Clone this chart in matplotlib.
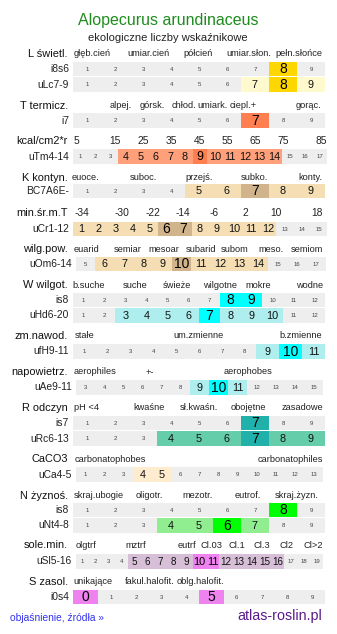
import matplotlib
matplotlib.use("Agg")
import matplotlib.pyplot as plt
from matplotlib.patches import Rectangle

plt.rcParams['font.family'] = ['Liberation Sans', 'DejaVu Sans']

# ---------------- data ----------------
title = "Alopecurus arundinaceus"
subtitle = "ekologiczne liczby wskaźnikowe"

# section headers: scale descriptions
L_cats = ["głęb.cień", "umiar.cień", "półcień", "umiar.słon.", "pełn.słońce"]
T_cats = ["alpej.", "górsk.", "chłod.", "umiark.", "ciepl.+", "gorąc."]
kcal_ticks = ["5", "15", "25", "35", "45", "55", "65", "75", "85"]
K_cats = ["euoce.", "suboc.", "przejś.", "subko.", "konty."]
minT_ticks = ["-34", "-30", "-22", "-14", "-6", "2", "10", "18"]
wilg_cats = ["euarid", "semiar", "mesoar", "subarid", "subom", "meso.", "semiom"]
W_cats = ["b.suche", "suche", "świeże", "wilgotne", "mokre", "wodne"]
zm_cats = ["stałe", "um.zmienne", "b.zmienne"]
aer_cats = ["aerophiles", "+-", "aerophobes"]
R_cats = ["pH <4", "kwaśne", "sł.kwaśn.", "obojętne", "zasadowe"]
Ca_cats = ["carbonatophobes", "carbonatophiles"]
N_cats = ["skraj.ubogie", "oligotr.", "mezotr.", "eutrof.", "skraj.żyzn."]
Sl_cats = ["olgtrf", "mztrf", "eutrf", "Cl.03", "Cl.1", "Cl.3", "Cl2", "Cl>2"]
S_cats = ["unikające", "fakul.halofit.", "oblg.halofit."]

# indicator rows: scale (first, last), marked range (lo, hi) or None, dominant values
i8s6_scale, i8s6_range, i8s6_dom = (1, 9), None, [8]
uLc_scale, uLc_range, uLc_dom = (1, 9), (7, 9), [8]
i7_scale, i7_range, i7_dom = (1, 9), None, [7]
uTm_scale, uTm_range, uTm_dom = (1, 17), (4, 14), [9]
BC_scale, BC_range, BC_dom = (1, 9), (5, 9), [7]
uCr_scale, uCr_range, uCr_dom = (1, 15), (1, 12), [6, 7]
uOm_scale, uOm_range, uOm_dom = (5, 17), (6, 14), [10]
isW_scale, isW_range, isW_dom = (1, 12), None, [8, 9]
uHd_scale, uHd_range, uHd_dom = (1, 12), (3, 10), [7]
ufH_scale, ufH_range, ufH_dom = (1, 11), (9, 11), [10]
uAe_scale, uAe_range, uAe_dom = (3, 15), (9, 11), [10]
isR_scale, isR_range, isR_dom = (1, 9), None, [7]
uRc_scale, uRc_range, uRc_dom = (1, 9), (4, 9), [7]
uCa_scale, uCa_range, uCa_dom = (1, 13), (4, 5), []
isN_scale, isN_range, isN_dom = (1, 9), None, [8]
uNt_scale, uNt_range, uNt_dom = (1, 9), (4, 7), [6]
uSl_scale, uSl_range, uSl_dom = (1, 19), (5, 16), [10, 11]
i0s4_scale, i0s4_range, i0s4_dom = (0, 9), None, [0, 5]

# ---------------- drawing ----------------
W_PX, H_PX = 337, 634
fig = plt.figure(figsize=(W_PX / 100, H_PX / 100), dpi=100)
ax = fig.add_axes([0, 0, 1, 1])
ax.set_xlim(0, W_PX)
ax.set_ylim(H_PX, 0)
ax.axis("off")

GRAY = "#eeeeee"
ROW_H = 14.6
HEAD_RIGHT = 68


def header(label, y, items, xs, size=6.7):
    ax.text(HEAD_RIGHT, y, label, ha="right", va="center", fontsize=7.9, color="#111")
    for t, x in zip(items, xs):
        ax.text(x, y, t, ha="center", va="center", fontsize=size, color="#222")


def row(label, y, scale, rng, dom, x0, x1, c_rng, c_dom):
    lo, hi = scale
    vals = list(range(lo, hi + 1))
    w = (x1 - x0) / len(vals)
    ax.text(x0 - 4, y, label, ha="right", va="center", fontsize=7.4, color="#222")
    big = min(10, w * 0.6)
    mid = min(7.8, w * 0.55)
    for i, v in enumerate(vals):
        left = x0 + i * w
        in_rng = rng is not None and rng[0] <= v <= rng[1]
        if v in dom:
            fc, fs, tc = c_dom, big, "#000"
        elif in_rng:
            fc, fs, tc = c_rng, mid, "#111"
        else:
            fc, fs, tc = GRAY, 4.3, "#444"
        ax.add_patch(Rectangle((left, y - ROW_H / 2), w + 0.3, ROW_H, fc=fc, ec="none"))
        ax.text(left + w / 2, y + 0.3, str(v), ha="center", va="center", fontsize=fs, color=tc)


ax.text(168, 20, title, ha="center", va="center", fontsize=11.5, color="#1e8c1e")
ax.text(168, 38, subtitle, ha="center", va="center", fontsize=8, color="#222")

# L
header("L świetl.", 54, L_cats, [92, 148, 198, 249, 299])
row("i8s6", 69, i8s6_scale, i8s6_range, i8s6_dom, 73, 325, "#fffacd", "#ffd700")
row("uLc7-9", 84.5, uLc_scale, uLc_range, uLc_dom, 73, 325, "#fffacd", "#ffd700")
# T
header("T termicz.", 106, T_cats, [121, 152, 184, 213, 243, 309])
row("i7", 120.5, i7_scale, i7_range, i7_dom, 73, 325, "#ffa07a", "#ff7f50")
header("kcal/cm2*r", 141, kcal_ticks, [76, 115, 143, 171, 199, 227, 255, 283, 321], size=7.4)
row("uTm4-14", 156.5, uTm_scale, uTm_range, uTm_dom, 73, 327, "#ffa07a", "#ff7f50")
# K
header("K kontyn.", 178, K_cats, [86, 143, 199, 254, 310])
row("BC7A6E-", 191, BC_scale, BC_range, BC_dom, 73, 325, "#f5deb3", "#d2b48c")
header("min.śr.m.T", 213, minT_ticks, [82, 122, 153, 183, 214, 245, 276, 317], size=7.4)
row("uCr1-12", 229, uCr_scale, uCr_range, uCr_dom, 73, 327, "#f5deb3", "#d2b48c")
header("wilg.pow.", 249, wilg_cats, [86, 128, 164, 201, 235, 271, 307])
row("uOm6-14", 264, uOm_scale, uOm_range, uOm_dom, 76, 326, "#f5deb3", "#d2b48c")
# W
header("W wilgot.", 285, W_cats, [89, 135, 177, 220, 258, 310])
row("is8", 300, isW_scale, isW_range, isW_dom, 73, 325, "#afeeee", "#00ffff")
row("uHd6-20", 315.5, uHd_scale, uHd_range, uHd_dom, 73, 325, "#afeeee", "#00ffff")
header("zm.nawod.", 336, zm_cats, [85, 199, 301])
row("ufH9-11", 351.5, ufH_scale, ufH_range, ufH_dom, 73, 325, "#afeeee", "#00ffff")
header("napowietrz.", 372, aer_cats, [95, 150, 248])
row("uAe9-11", 387.5, uAe_scale, uAe_range, uAe_dom, 76, 323, "#afeeee", "#00ffff")
# R
header("R odczyn", 408, R_cats, [86, 149, 199, 248, 302])
row("is7", 423, isR_scale, isR_range, isR_dom, 73, 325, "#66cdaa", "#20b2aa")
row("uRc6-13", 438.5, uRc_scale, uRc_range, uRc_dom, 73, 325, "#66cdaa", "#20b2aa")
header("CaCO3", 459, Ca_cats, [110, 290])
row("uCa4-5", 474.5, uCa_scale, uCa_range, uCa_dom, 76, 323, "#ffebcd", "#ffebcd")
# N
header("N żyznoś.", 496, N_cats, [99, 149, 198, 248, 297])
row("is8", 510, isN_scale, isN_range, isN_dom, 73, 325, "#90ee90", "#00ff00")
row("uNt4-8", 525.5, uNt_scale, uNt_range, uNt_dom, 73, 325, "#90ee90", "#00ff00")
# salinity
header("sole.min.", 545, Sl_cats, [86, 136, 187, 211, 237, 262, 286, 313])
row("uSl5-16", 561.5, uSl_scale, uSl_range, uSl_dom, 76, 323, "#d8bfd8", "#ee82ee")
header("S zasol.", 582, S_cats, [93, 150, 200])
row("i0s4", 597, i0s4_scale, i0s4_range, i0s4_dom, 73, 325, "#d8bfd8", "#ee82ee")

# footer
ax.text(10, 618, "objaśnienie, źródła »", ha="left", va="center", fontsize=7.4, color="#3333ee")
ax.text(322, 616, "atlas-roslin.pl", ha="right", va="center", fontsize=10.3, color="#5b1a8c")

fig.savefig("out.png", dpi=100)
